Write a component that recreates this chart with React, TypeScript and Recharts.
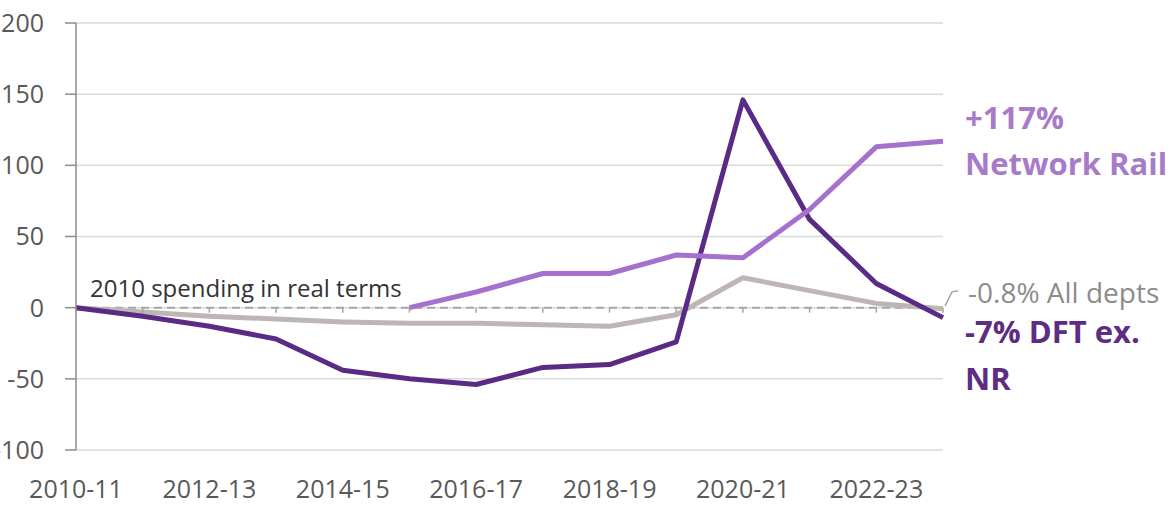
import React from 'react';
import { LineChart, Line, XAxis, YAxis, CartesianGrid, ReferenceLine, ReferenceDot } from 'recharts';

const categories = ['2010-11', '2011-12', '2012-13', '2013-14', '2014-15', '2015-16', '2016-17', '2017-18', '2018-19', '2019-20', '2020-21', '2021-22', '2022-23', '2023-24'];
const dftExNr = [0, -6, -13, -22, -44, -50, -54, -42, -40, -24, 146, 62, 17, -7];
const allDepts = [0, -3, -6, -8, -10, -11, -11, -12, -13, -5, 21, 12, 3, -0.8];
const networkRail: (number | null)[] = [null, null, null, null, null, 0, 11, 24, 24, 37, 35, 69, 113, 117];
const yTicks = [-100, -50, 0, 50, 100, 150, 200];

const data = categories.map((c, i) => ({ year: c, dft: dftExNr[i], all: allDepts[i], nr: networkRail[i] }));

const FONT = "'Open Sans', sans-serif";
const DARK = '#5a2b84';
const LIGHT = '#a670cd';
const GREY = '#bdb6b4';

const tickMark = (p: any) => (
  <line x1={p.cx} y1={p.cy} x2={p.cx} y2={p.cy + 5} stroke="#a6a6a6" strokeWidth={1.5} />
);

export default function App() {
  const last = categories[categories.length - 1];
  return (
    <div style={{ position: 'absolute', left: 0, top: 0, width: 1172, height: 506, background: '#fff' }}>
      <LineChart width={1172} height={506} data={data} margin={{ top: 23, right: 229, bottom: 0, left: 0 }} style={{ fontFamily: FONT }}>
        <CartesianGrid horizontal vertical={false} stroke="#d9d9d9" strokeWidth={1.5} />
        <XAxis
          dataKey="year"
          scale="point"
          padding={{ left: 0, right: 0 }}
          interval={1}
          axisLine={false}
          tickLine={false}
          tickSize={0}
          tickMargin={30}
          height={56}
          tick={{ fontSize: 25, fill: '#595959', fontFamily: FONT }}
        />
        <YAxis
          domain={[-100, 200]}
          ticks={yTicks}
          width={76}
          axisLine={{ stroke: '#8c8c8c', strokeWidth: 1.5 }}
          tickLine={{ stroke: '#8c8c8c', strokeWidth: 1.5 }}
          tickSize={11}
          tickMargin={21}
          tick={{ fontSize: 25, fill: '#595959', fontFamily: FONT }}
        />
        <ReferenceLine y={0} stroke="#a6a6a6" strokeWidth={2} strokeDasharray="8 5" />
        {categories.slice(1).map((c) => (
          <ReferenceDot key={c} x={c} y={0} r={1} shape={tickMark} />
        ))}
        <ReferenceDot
          x={categories[0]}
          y={0}
          r={1}
          shape={(p: any) => (
            <text x={p.cx + 14} y={p.cy - 11} fontSize={24} fill="#333333" fontFamily={FONT}>
              2010 spending in real terms
            </text>
          )}
        />
        <Line type="linear" dataKey="all" stroke={GREY} strokeWidth={5} dot={false} isAnimationActive={false} strokeLinejoin="round" />
        <Line type="linear" dataKey="dft" stroke={DARK} strokeWidth={5} dot={false} isAnimationActive={false} strokeLinejoin="round" />
        <Line type="linear" dataKey="nr" stroke={LIGHT} strokeWidth={5} dot={false} isAnimationActive={false} strokeLinejoin="round" connectNulls={false} />
        <ReferenceDot
          x={last}
          y={networkRail[networkRail.length - 1] as number}
          r={1}
          shape={(p: any) => (
            <g fontFamily={FONT} fontWeight="bold" fontSize={31} fill="#a77bca">
              <text x={p.cx + 22} y={p.cy - 12}>+117%</text>
              <text x={p.cx + 22} y={p.cy + 34}>Network Rail</text>
            </g>
          )}
        />
        <ReferenceDot
          x={last}
          y={allDepts[allDepts.length - 1]}
          r={1}
          shape={(p: any) => (
            <g>
              <path d={`M${p.cx + 2},${p.cy - 3} L${p.cx + 9},${p.cy - 17} L${p.cx + 15},${p.cy - 18}`} stroke="#a6a6a6" strokeWidth={1.5} fill="none" />
              <text x={p.cx + 25} y={p.cy - 6} fontFamily={FONT} fontSize={28} fill="#8c8c8c">-0.8% All depts</text>
            </g>
          )}
        />
        <ReferenceDot
          x={last}
          y={dftExNr[dftExNr.length - 1]}
          r={1}
          shape={(p: any) => (
            <g fontFamily={FONT} fontWeight="bold" fontSize={31} fill="#5c2d82">
              <text x={p.cx + 22} y={p.cy + 25}>-7% DFT ex.</text>
              <text x={p.cx + 22} y={p.cy + 72}>NR</text>
            </g>
          )}
        />
      </LineChart>
    </div>
  );
}
